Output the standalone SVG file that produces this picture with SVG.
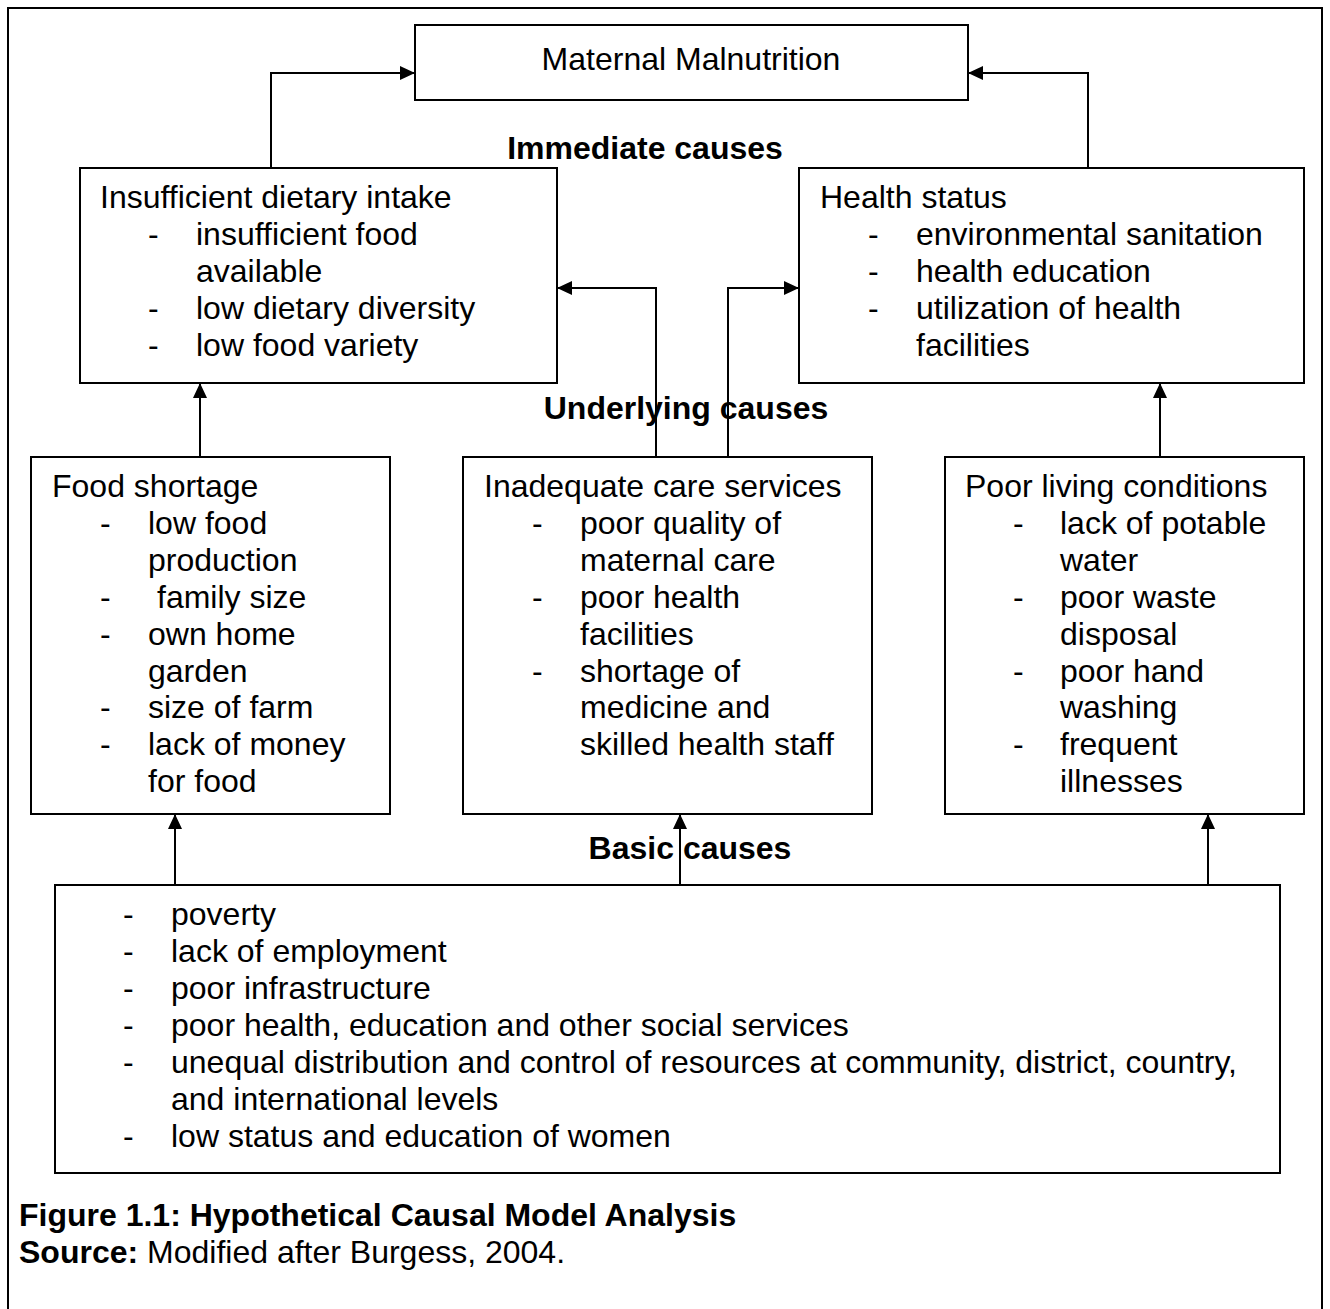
<svg xmlns="http://www.w3.org/2000/svg" width="1330" height="1309" viewBox="0 0 1330 1309">
<style>
text{font-family:"Liberation Sans",Arial,sans-serif;font-size:32px;fill:#000}
.b{font-weight:bold}
.box{fill:#fff;stroke:#000;stroke-width:2}
.c{fill:none;stroke:#000;stroke-width:2}
</style>
<defs>
<marker id="ah" viewBox="0 0 15 14" refX="15" refY="7" markerWidth="15" markerHeight="14" markerUnits="userSpaceOnUse" orient="auto">
<path d="M0,0 L15,7 L0,14 Z" fill="#000"/>
</marker>
</defs>
<rect x="0" y="0" width="1330" height="1309" fill="#fff"/>
<rect x="8" y="8" width="1314" height="1320" fill="none" stroke="#000" stroke-width="2"/>

<g id="connectors">
<path class="c" d="M271,168 V73 H415" marker-end="url(#ah)"/>
<path class="c" d="M1088,168 V73 H968" marker-end="url(#ah)"/>
<path class="c" d="M656,457 V288 H557" marker-end="url(#ah)"/>
<path class="c" d="M728,457 V288 H799" marker-end="url(#ah)"/>
<path class="c" d="M200,457 V383" marker-end="url(#ah)"/>
<path class="c" d="M1160,457 V383" marker-end="url(#ah)"/>
<path class="c" d="M175,885 V814" marker-end="url(#ah)"/>
<path class="c" d="M680,885 V814" marker-end="url(#ah)"/>
<path class="c" d="M1208,885 V814" marker-end="url(#ah)"/>
</g>

<g id="maternal">
<rect class="box" x="415" y="25" width="553" height="75"/>
<text x="691" y="70" text-anchor="middle">Maternal Malnutrition</text>
</g>

<g id="intake">
<rect class="box" x="80" y="168" width="477" height="215"/>
<text x="100" y="208">Insufficient dietary intake</text>
<text x="148" y="245">-</text><text x="196" y="245">insufficient food</text>
<text x="196" y="282">available</text>
<text x="148" y="319">-</text><text x="196" y="319">low dietary diversity</text>
<text x="148" y="356">-</text><text x="196" y="356">low food variety</text>
</g>

<g id="health">
<rect class="box" x="799" y="168" width="505" height="215"/>
<text x="820" y="208">Health status</text>
<text x="868" y="245">-</text><text x="916" y="245">environmental sanitation</text>
<text x="868" y="282">-</text><text x="916" y="282">health education</text>
<text x="868" y="319">-</text><text x="916" y="319">utilization of health</text>
<text x="916" y="356">facilities</text>
</g>

<g id="food">
<rect class="box" x="31" y="457" width="359" height="357"/>
<text x="52" y="497">Food shortage</text>
<text x="100" y="534">-</text><text x="148" y="534">low food</text>
<text x="148" y="571">production</text>
<text x="100" y="608">-</text><text x="157" y="608">family size</text>
<text x="100" y="645">-</text><text x="148" y="645">own home</text>
<text x="148" y="682">garden</text>
<text x="100" y="718">-</text><text x="148" y="718">size of farm</text>
<text x="100" y="755">-</text><text x="148" y="755">lack of money</text>
<text x="148" y="792">for food</text>
</g>

<g id="care">
<rect class="box" x="463" y="457" width="409" height="357"/>
<text x="484" y="497">Inadequate care services</text>
<text x="532" y="534">-</text><text x="580" y="534">poor quality of</text>
<text x="580" y="571">maternal care</text>
<text x="532" y="608">-</text><text x="580" y="608">poor health</text>
<text x="580" y="645">facilities</text>
<text x="532" y="682">-</text><text x="580" y="682">shortage of</text>
<text x="580" y="718">medicine and</text>
<text x="580" y="755">skilled health staff</text>
</g>

<g id="living">
<rect class="box" x="945" y="457" width="359" height="357"/>
<text x="965" y="497">Poor living conditions</text>
<text x="1013" y="534">-</text><text x="1060" y="534">lack of potable</text>
<text x="1060" y="571">water</text>
<text x="1013" y="608">-</text><text x="1060" y="608">poor waste</text>
<text x="1060" y="645">disposal</text>
<text x="1013" y="682">-</text><text x="1060" y="682">poor hand</text>
<text x="1060" y="718">washing</text>
<text x="1013" y="755">-</text><text x="1060" y="755">frequent</text>
<text x="1060" y="792">illnesses</text>
</g>

<g id="basic">
<rect class="box" x="55" y="885" width="1225" height="288"/>
<text x="123" y="925">-</text><text x="171" y="925">poverty</text>
<text x="123" y="962">-</text><text x="171" y="962">lack of employment</text>
<text x="123" y="999">-</text><text x="171" y="999">poor infrastructure</text>
<text x="123" y="1036">-</text><text x="171" y="1036">poor health, education and other social services</text>
<text x="123" y="1073">-</text><text x="171" y="1073">unequal distribution and control of resources at community, district, country,</text>
<text x="171" y="1110">and international levels</text>
<text x="123" y="1147">-</text><text x="171" y="1147">low status and education of women</text>
</g>

<g id="texts">
<text class="b" x="645" y="159" text-anchor="middle">Immediate causes</text>
<text class="b" x="686" y="419" text-anchor="middle">Underlying causes</text>
<text class="b" x="690" y="859" text-anchor="middle">Basic causes</text>
<text class="b" x="19" y="1226">Figure 1.1: Hypothetical Causal Model Analysis</text>
<text x="19" y="1263"><tspan font-weight="bold">Source:</tspan> Modified after Burgess, 2004.</text>
</g>
</svg>
